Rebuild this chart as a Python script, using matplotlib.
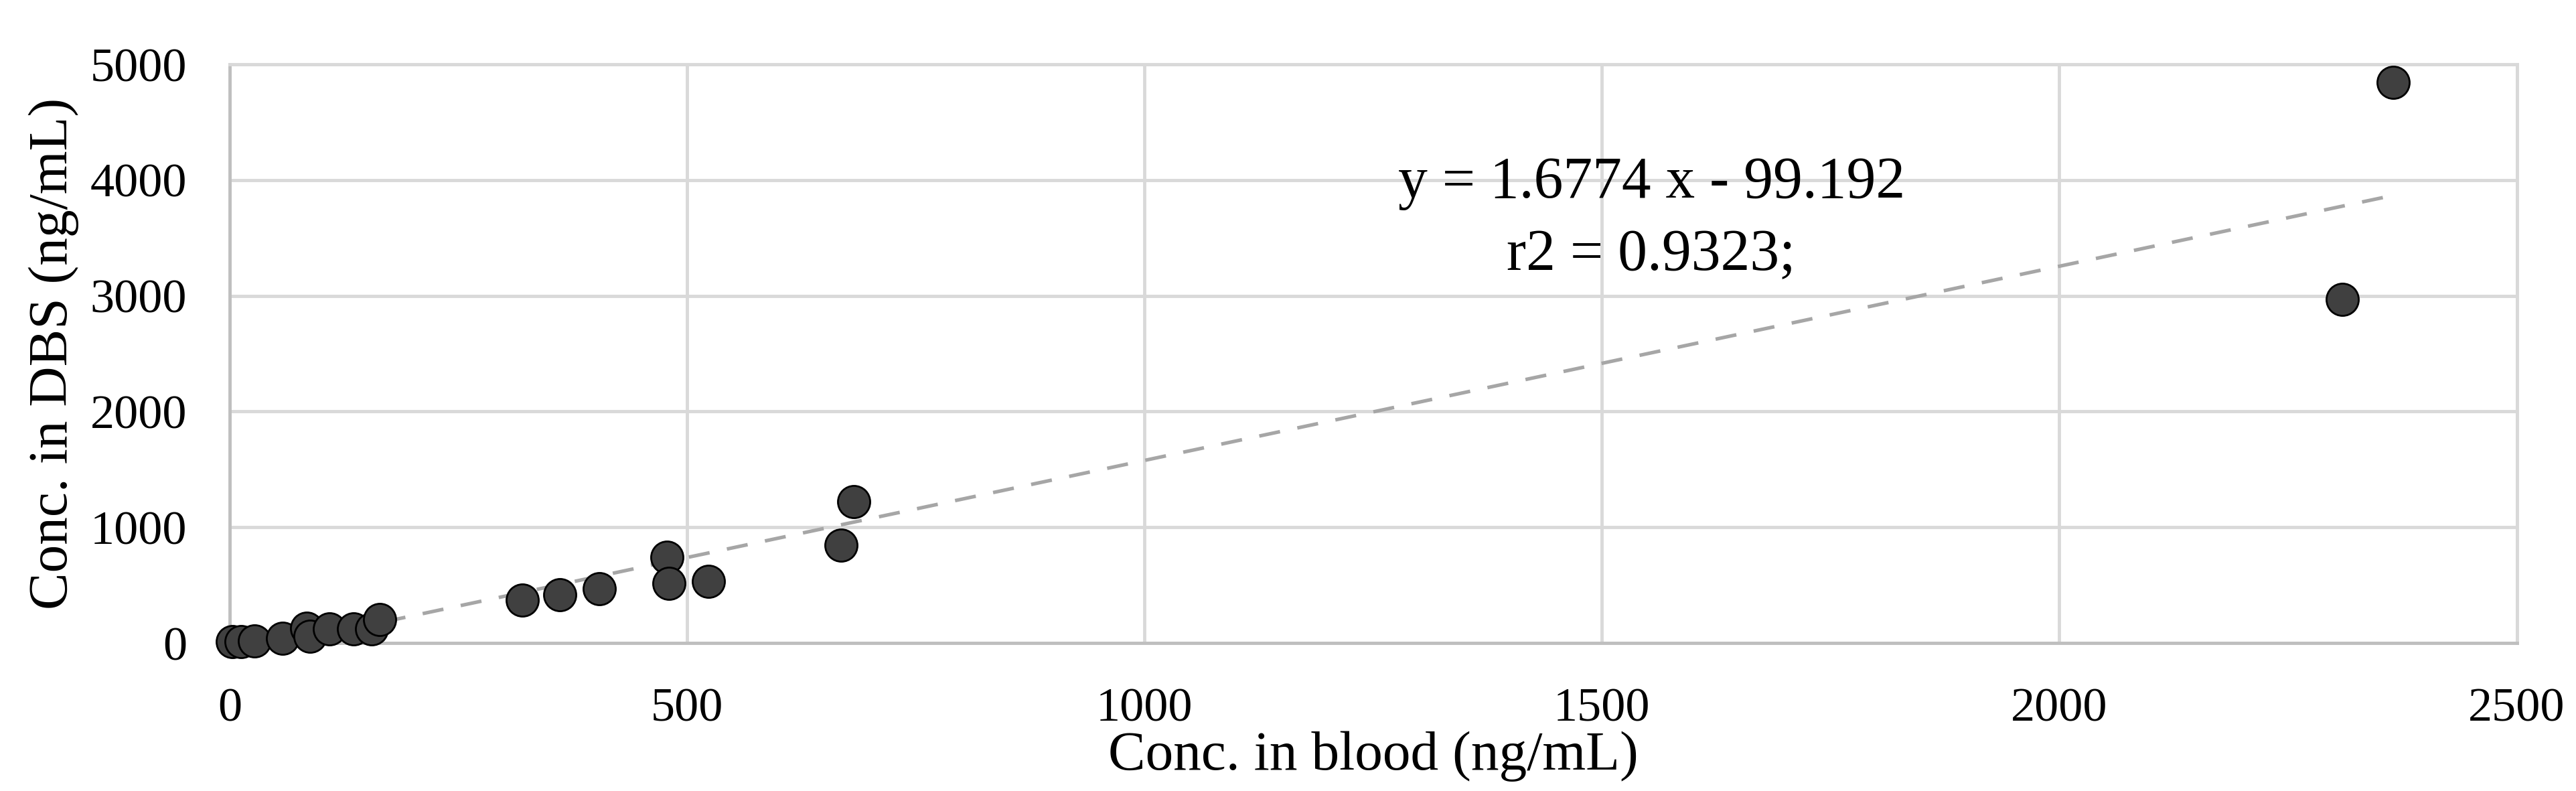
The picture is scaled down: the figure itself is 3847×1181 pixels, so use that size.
import numpy as np
import matplotlib.pyplot as plt

# %%
## Data
blood = [3, 12, 27, 58, 84, 88, 109, 135, 155, 164,
         320, 361, 404, 478, 480, 523, 668, 682, 2309, 2365]
dbs = [10, 15, 20, 40, 130, 60, 125, 125, 120, 205,
       370, 420, 468, 740, 515, 535, 845, 1222, 2970, 4845]
slope, intercept = 1.6774, -99.192
eq_text = "y = 1.6774 x - 99.192"
r2_text = "r2 = 0.9323;"
x_ticks = [0, 500, 1000, 1500, 2000, 2500]
y_ticks = [0, 1000, 2000, 3000, 4000, 5000]

GRID = "#d9d9d9"
AXIS = "#bfbfbf"
plt.rcParams["font.family"] = ["Liberation Serif", "DejaVu Serif"]

# %%
fig = plt.figure(figsize=(38.47, 11.81), dpi=100)
ax = fig.add_axes([0.0892, 0.187, 0.8878, 0.7317])

xs = np.array([min(blood), max(blood)])
ax.plot(xs, slope * xs + intercept, color="#a6a6a6", lw=3.8,
        dashes=(6, 5), zorder=3)
ax.scatter(blood, dbs, s=1200, color="#404040", edgecolor="black",
           linewidth=2.0, zorder=4, clip_on=False)

ax.text(1554, 3848, eq_text, ha="center", va="baseline", fontsize=63)
ax.text(1554, 3223, r2_text, ha="center", va="baseline", fontsize=63)

ax.set_xlim(0, 2500)
ax.set_ylim(0, 5000)
ax.set_xticks(x_ticks)
ax.set_yticks(y_ticks)
ax.grid(True, color=GRID, lw=3.5, zorder=0)
ax.set_axisbelow(True)
ax.tick_params(length=0, labelsize=52)
ax.tick_params(axis="x", pad=48)
ax.tick_params(axis="y", pad=46)
for side in ["top", "right"]:
    ax.spines[side].set_color(GRID)
    ax.spines[side].set_linewidth(3.5)
for side in ["left", "bottom"]:
    ax.spines[side].set_color(AXIS)
    ax.spines[side].set_linewidth(3.5)

ax.set_xlabel("Conc. in blood (ng/mL)", fontsize=60, labelpad=0)
ax.set_ylabel("Conc. in DBS (ng/mL)", fontsize=60, labelpad=12)

fig.savefig("out.png", dpi=100)
